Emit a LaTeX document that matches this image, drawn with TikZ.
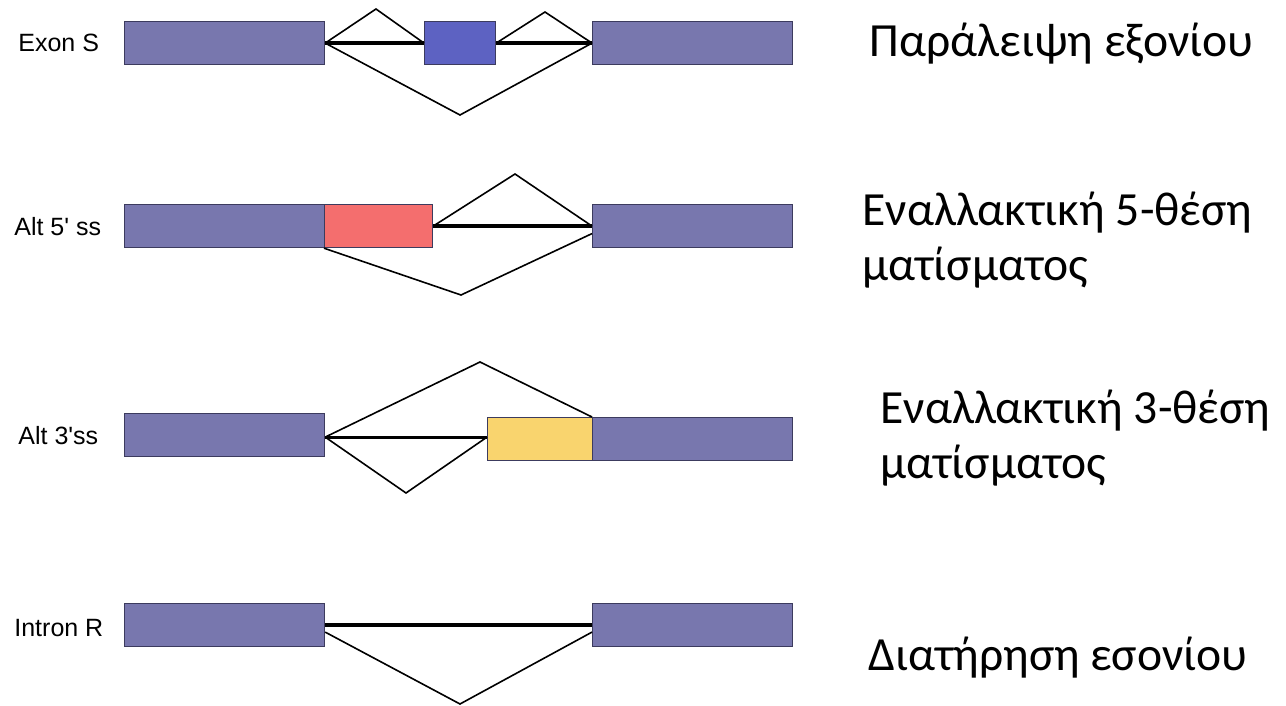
\documentclass[tikz,border=0pt]{standalone}
\usepackage{fontspec}
\setmainfont{Carlito}
\newfontfamily\lblfont{Liberation Sans}

\definecolor{exonc}{HTML}{7877AE}
\definecolor{skipc}{HTML}{5D62C2}
\definecolor{fivec}{HTML}{F46E6E}
\definecolor{threec}{HTML}{F9D46E}
\definecolor{edgec}{HTML}{3C3B5E}

\begin{document}
\begin{tikzpicture}[x=0.5pt,y=-0.5pt,
  box/.style={draw=edgec, line width=0.6pt, inner sep=0pt, anchor=north west, minimum height=21.5pt},
  exon/.style={box, fill=exonc, minimum width=100pt},
  intron/.style={line width=2pt, black},
  splice/.style={line width=0.8pt, black},
  rowlabel/.style={font=\lblfont\fontsize{12.5}{14}\selectfont, anchor=west, inner sep=0pt},
  desc/.style={font=\fontsize{23.8}{27.5}\selectfont, anchor=base west, align=left, inner sep=0pt}]

\useasboundingbox[fill=white] (0,0) rectangle (1286,706);

% ---------- exon skipping ----------
\node[rowlabel] (lab1) at (18,43) {Exon S};
\node[exon] (a1) at (124,21) {};
\node[box, fill=skipc, minimum width=35.5pt] (s1) at (424,21) {};
\node[exon] (b1) at (592,21) {};
\coordinate (p1) at (376,9);
\coordinate (q1) at (545,12);
\coordinate (v1) at (460,115);
\draw[intron] (a1.east) -- (s1.west);
\draw[intron] (s1.east) -- (b1.west);
\draw[splice] (a1.east) -- (p1) -- (s1.west);
\draw[splice] (s1.east) -- (q1) -- (b1.west);
\draw[splice] (a1.east) -- (v1) -- (b1.west);

% ---------- alternative 5' splice site ----------
\node[rowlabel] (lab2) at (14,227) {Alt 5' ss};
\node[exon] (a2) at (124,204) {};
\node[box, fill=fivec, minimum width=54pt] (f2) at (324,204) {};
\node[exon] (b2) at (592,204) {};
\coordinate (p2) at (515,174);
\coordinate (v2) at (461,295);
\draw[intron] (f2.east) -- (b2.west);
\draw[splice] (f2.east) -- (p2) -- (b2.west);
\draw[splice] (f2.south west) -- (v2) -- ([yshift=-3.75pt]b2.west);

% ---------- alternative 3' splice site ----------
\node[rowlabel] (lab3) at (18,436) {Alt 3'ss};
\node[exon] (a3) at (124,413) {};
\node[box, fill=threec, minimum width=52.5pt] (t3) at (487,417) {};
\node[exon] (b3) at (592,417) {};
\coordinate (d3s) at ([yshift=-1pt]a3.east);
\coordinate (p3) at (480,362);
\coordinate (v3) at (406,493);
\draw[line width=1.4pt] (d3s) -- (d3s -| t3.west);
\draw[splice] (d3s) -- (p3) -- (b3.north west);
\draw[splice] (d3s) -- (v3) -- (d3s -| t3.west);

% ---------- intron retention ----------
\node[rowlabel] (lab4) at (14,628) {Intron R};
\node[exon] (a4) at (124,603) {};
\node[exon] (b4) at (592,603) {};
\coordinate (v4) at (460,704);
\draw[intron] (a4.east) -- (b4.west);
\draw[splice] ([yshift=-3.5pt]a4.east) -- (v4) -- ([yshift=-3.5pt]b4.west);

% ---------- descriptions (anchored on the baseline of their last line) ----------
\node[desc] (d1) at (869,57) {Παράλειψη εξονίου};
\node[desc] (d2) at (862,280) {Εναλλακτική 5-θέση\\ματίσματος};
\node[desc] (d3) at (880,478) {Εναλλακτική 3-θέση\\ματίσματος};
\node[desc] (d4) at (868,670) {Διατήρηση εσονίου};
\end{tikzpicture}
\end{document}
